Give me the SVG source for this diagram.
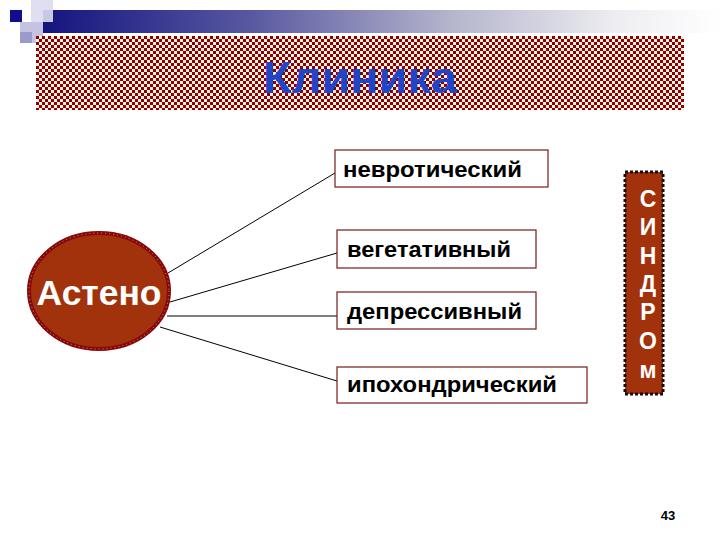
<svg xmlns="http://www.w3.org/2000/svg" width="720" height="540" viewBox="0 0 720 540">
<defs>
<linearGradient id="bar" x1="0" y1="0" x2="1" y2="0">
<stop offset="0" stop-color="#14147f"/>
<stop offset="0.3" stop-color="#5656a0"/>
<stop offset="0.6" stop-color="#b4b4cc"/>
<stop offset="0.85" stop-color="#eeeef2"/>
<stop offset="1" stop-color="#ffffff"/>
</linearGradient>
<pattern id="check" width="6" height="6" patternUnits="userSpaceOnUse" x="36" y="36">
<rect width="6" height="6" fill="#f6f0e2"/>
<rect width="3" height="3" fill="#8b0000"/>
<rect x="3" y="3" width="3" height="3" fill="#8b0000"/>
</pattern>
<style>
.box{fill:#ffffff;stroke:#7a1818;stroke-width:1.2}
.lbl{font-family:"Liberation Sans",Arial,sans-serif;font-weight:bold;font-size:22px;fill:#000}
.conn line{stroke:#000;stroke-width:1}
.v{font-family:"Liberation Sans",Arial,sans-serif;font-weight:bold;font-size:23px;fill:#ffffff;text-anchor:middle}
</style>
</defs>
<rect width="720" height="540" fill="#ffffff"/>
<g id="decor">
<rect x="43" y="10" width="677" height="23" fill="url(#bar)"/>
<rect x="31" y="0" width="22" height="22" fill="#dcdcef" opacity="0.9"/>
<rect x="20" y="22" width="23" height="21" fill="#c4c4e2"/>
<rect x="20" y="32" width="12" height="11" fill="#9a9acc"/>
<rect x="10" y="10" width="12" height="12" fill="#10108a"/>
</g>
<g id="title">
<rect x="36" y="36" width="648" height="74" fill="url(#check)"/>
<text x="360" y="93" text-anchor="middle" font-family="Liberation Sans, Arial, sans-serif" font-weight="bold" font-size="45" fill="#1f45c8" textLength="194" lengthAdjust="spacingAndGlyphs">Клиника</text>
</g>
<g id="connectors" class="conn">
<line x1="168" y1="273" x2="335" y2="173"/>
<line x1="170" y1="302" x2="337" y2="253"/>
<line x1="167" y1="316" x2="337" y2="316"/>
<line x1="160" y1="327" x2="337" y2="381"/>
</g>
<g id="asteno">
<ellipse cx="99" cy="291" rx="70" ry="58" fill="#a2320c" stroke="#860808" stroke-width="4"/>
<ellipse cx="99" cy="291" rx="70" ry="58" fill="none" stroke="#e8b0a0" stroke-width="0.8" stroke-dasharray="1 3"/>
<text x="99" y="305" text-anchor="middle" font-family="Liberation Sans, Arial, sans-serif" font-weight="bold" font-size="35" fill="#ffffff" textLength="125" lengthAdjust="spacingAndGlyphs">Астено</text>
</g>
<g id="nevrot">
<rect class="box" x="335" y="150" width="213" height="37"/>
<text class="lbl" x="343" y="177" textLength="179" lengthAdjust="spacingAndGlyphs">невротический</text>
</g>
<g id="veget">
<rect class="box" x="337" y="230" width="199" height="38"/>
<text class="lbl" x="347" y="257" textLength="164" lengthAdjust="spacingAndGlyphs">вегетативный</text>
</g>
<g id="depress">
<rect class="box" x="337" y="292" width="199" height="37"/>
<text class="lbl" x="347" y="319" textLength="175" lengthAdjust="spacingAndGlyphs">депрессивный</text>
</g>
<g id="ipohond">
<rect class="box" x="337" y="367" width="250" height="36"/>
<text class="lbl" x="347" y="392" textLength="210" lengthAdjust="spacingAndGlyphs">ипохондрический</text>
</g>
<g id="sindrom">
<rect x="625" y="172" width="38" height="222" fill="#a2320c" stroke="#1a0a0a" stroke-width="3" stroke-dasharray="3 2"/>
<text class="v" x="648" y="207">С</text>
<text class="v" x="648" y="235">И</text>
<text class="v" x="648" y="264">Н</text>
<text class="v" x="648" y="292">Д</text>
<text class="v" x="648" y="320">Р</text>
<text class="v" x="648" y="349">О</text>
<text class="v" x="648" y="378">м</text>
</g>
<text x="668" y="520" text-anchor="middle" font-family="Liberation Sans, Arial, sans-serif" font-weight="bold" font-size="13" fill="#000">43</text>
</svg>
